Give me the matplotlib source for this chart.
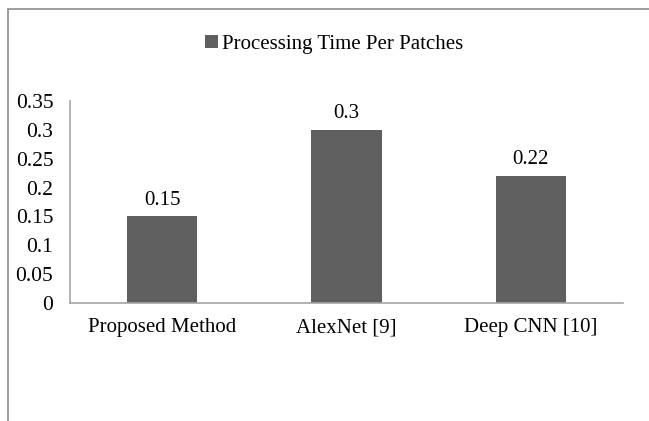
import matplotlib.pyplot as plt
from matplotlib.patches import Rectangle
import numpy as np

# data
methods = ['Proposed Method', 'AlexNet [9]', 'Deep CNN [10]']
times = [0.15, 0.3, 0.22]
series_name = 'Processing Time Per Patches'
yticks = [0, 0.05, 0.1, 0.15, 0.2, 0.25, 0.3, 0.35]
ytick_labels = ['0', '0.05', '0.1', '0.15', '0.2', '0.25', '0.3', '0.35']

plt.rcParams['font.family'] = ['Liberation Serif', 'DejaVu Serif']

W, H = 649, 421
fig = plt.figure(figsize=(W / 100, H / 100), dpi=100)

# outer chart border (runs off the right and bottom edge)
fig.patches.append(Rectangle((8 / W, -0.1), 1.2, 1 - 9 / H + 0.1, transform=fig.transFigure,
                             fill=False, edgecolor='#8c8c8c', linewidth=1.2))

ax = fig.add_axes([70 / W, 1 - 303 / H, (623 - 70) / W, (303 - 101) / H])
x = np.arange(len(methods))
bars = ax.bar(x, times, width=0.38, color='#606060', label=series_name)
ax.set_xlim(-0.5, len(methods) - 0.5)
ax.set_ylim(0, 0.35)
ax.set_yticks(yticks)
ax.set_yticklabels(ytick_labels, fontsize=15.5)
ax.set_xticks(x)
ax.set_xticklabels(methods, fontsize=15)
ax.tick_params(axis='both', length=0)
ax.tick_params(axis='y', pad=12)
ax.tick_params(axis='x', pad=11)

for s in ['top', 'right']:
    ax.spines[s].set_visible(False)
for s in ['left', 'bottom']:
    ax.spines[s].set_color('#a6a6a6')
    ax.spines[s].set_linewidth(1.2)

for xi, v in zip(x, times):
    ax.text(xi, v + 0.012, str(v), ha='center', va='bottom', fontsize=15)

fig.legend(handles=[bars], labels=[series_name], loc='center', bbox_to_anchor=(334 / W, 1 - 44 / H),
           frameon=False, fontsize=15, handlelength=0.6, handleheight=0.6, handletextpad=0.2)

fig.savefig('out.png', dpi=100)
